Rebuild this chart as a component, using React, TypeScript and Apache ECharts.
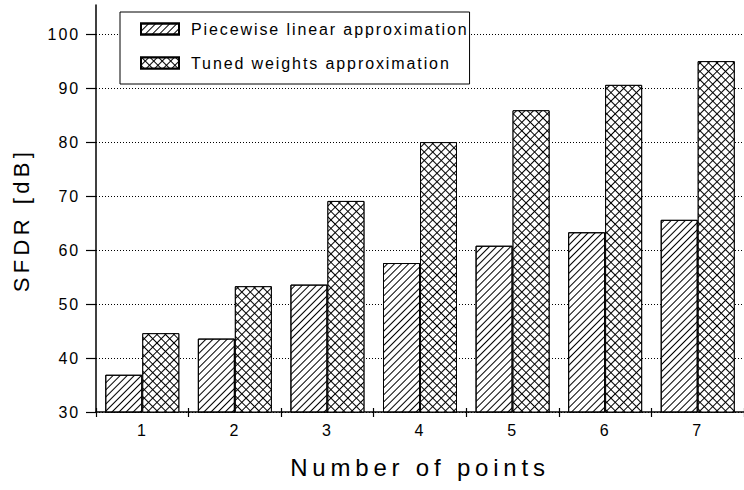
import React, { useEffect, useRef } from 'react';
import * as echarts from 'echarts';

const categories = ['1', '2', '3', '4', '5', '6', '7'];
const seriesNames = ['Piecewise linear approximation', 'Tuned weights approximation'];
const piecewise = [36.9, 43.6, 53.6, 57.6, 60.8, 63.3, 65.6];
const tuned = [44.6, 53.3, 69.1, 80.0, 85.9, 90.6, 95.0];
const yTicks = [30, 40, 50, 60, 70, 80, 90, 100];
const yAxisTitle = 'SFDR [dB]';
const xAxisTitle = 'Number of points';

const FONT = '"Liberation Sans", Arial, Helvetica, sans-serif';

const css = `
#chart text[style*="24px"] { letter-spacing: 4.8px; }
#chart text[style*="22px"] { letter-spacing: 4.4px; }
#chart text[style*="16px"] { letter-spacing: 1.9px; }
`;

export default function App() {
  const ref = useRef<HTMLDivElement>(null);
  useEffect(() => {
    const chart = echarts.init(ref.current!, null, { renderer: 'svg' });
    chart.setOption({
      animation: false,
      backgroundColor: '#fff',
      textStyle: { fontFamily: FONT, color: '#000' },
      grid: { left: 96, right: -5, top: 5, bottom: 78 },
      legend: {
        orient: 'vertical',
        left: 120,
        top: 12,
        padding: [7, 58, 11, 20],
        itemWidth: 38,
        itemHeight: 11,
        itemGap: 14,
        icon: 'rect',
        backgroundColor: '#fff',
        borderColor: '#000',
        borderWidth: 1,
        textStyle: { fontSize: 16, fontFamily: FONT, color: '#000', lineHeight: 20, padding: [0, 0, 0, 7] },
        data: seriesNames,
      },
      xAxis: [
        {
          type: 'category',
          data: categories,
          position: 'bottom',
          axisLine: { lineStyle: { color: '#000', width: 1.5 } },
          axisTick: { show: true, length: 5, lineStyle: { color: '#000', width: 1.2 } },
          axisLabel: { fontSize: 16, color: '#000', margin: 10, fontFamily: FONT },
          splitLine: { show: false },
          name: xAxisTitle,
          nameLocation: 'middle',
          nameGap: 43,
          nameTextStyle: { fontSize: 24, color: '#000', fontFamily: FONT },
        },
        {
          type: 'category',
          data: categories,
          position: 'top',
          offset: -407,
          axisLine: { show: false },
          axisTick: { show: true, length: 4, lineStyle: { color: '#000', width: 1.2 } },
          axisLabel: { show: false },
          splitLine: { show: false },
        },
      ],
      yAxis: {
        type: 'value',
        min: 30,
        max: 105.4,
        interval: 10,
        axisLine: { show: true, lineStyle: { color: '#000', width: 1.5 } },
        axisTick: { show: true, length: 10, customValues: yTicks, lineStyle: { color: '#000', width: 1.2 } },
        axisLabel: { customValues: yTicks, fontSize: 16, color: '#000', margin: 16, fontFamily: FONT },
        splitLine: { show: true, lineStyle: { color: '#000', type: [1, 2], width: 1 } },
      },
      graphic: [
        {
          type: 'text',
          x: 21,
          y: 220,
          rotation: Math.PI / 2,
          style: {
            text: yAxisTitle,
            fontSize: 22,
            fontFamily: FONT,
            fill: '#000',
            align: 'center',
            verticalAlign: 'middle',
            textAlign: 'center',
            textVerticalAlign: 'middle',
          },
        },
      ],
      series: [
        {
          name: seriesNames[0],
          type: 'bar',
          data: piecewise,
          barWidth: 37,
          barGap: '0%',
          itemStyle: {
            color: '#fff',
            borderColor: '#000',
            borderWidth: 1,
            decal: {
              symbol: 'rect',
              dashArrayX: [8, 0],
              dashArrayY: [1, 3.4],
              rotation: -Math.PI / 4,
              color: '#000',
            },
          },
        },
        {
          name: seriesNames[1],
          type: 'bar',
          data: tuned,
          barWidth: 37,
          barGap: '0%',
          itemStyle: {
            color: '#000',
            borderColor: '#000',
            borderWidth: 1,
            decal: {
              symbol: 'rect',
              dashArrayX: [4.6, 1],
              dashArrayY: [4.6, 1],
              rotation: Math.PI / 4,
              color: '#fff',
            },
          },
        },
      ],
    });
    return () => chart.dispose();
  }, []);
  return (
    <>
      <style>{css}</style>
      <div ref={ref} id="chart" style={{ position: 'fixed', left: 0, top: 0, width: 744, height: 490 }} />
    </>
  );
}
